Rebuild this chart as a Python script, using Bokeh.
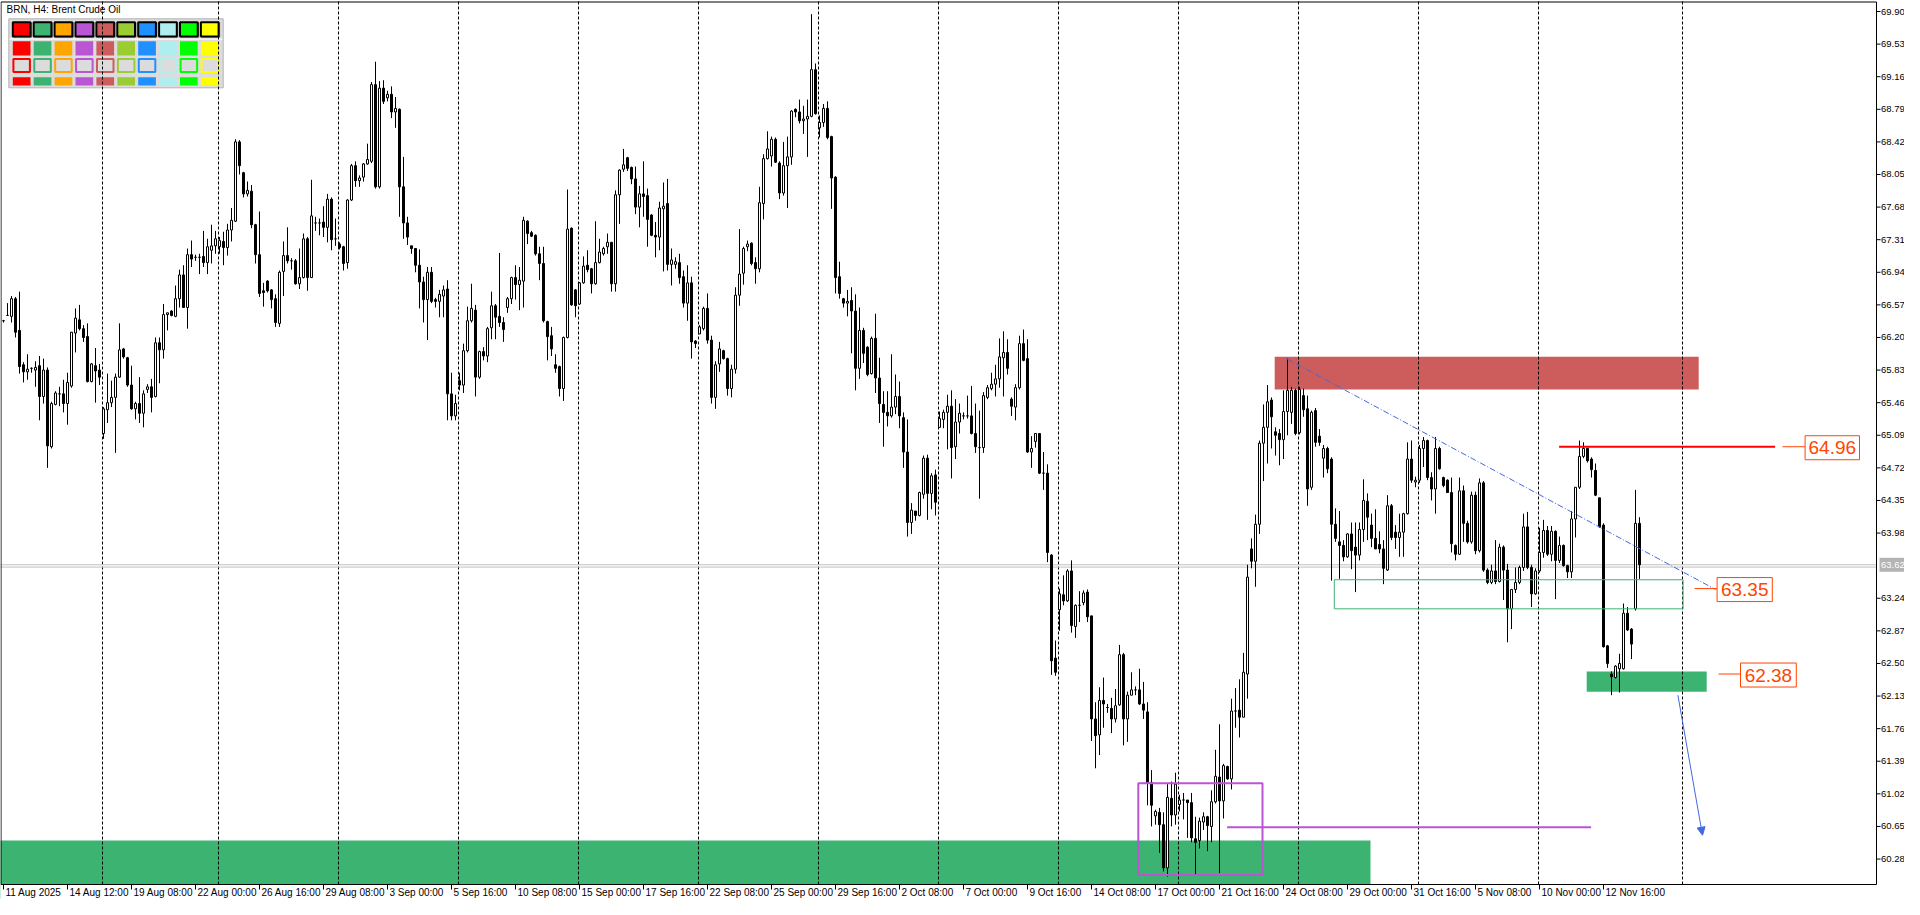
from bokeh.plotting import figure
from bokeh.models import Range1d, Arrow, NormalHead
from bokeh.core.properties import value
from bokeh.embed import file_html
from bokeh.resources import INLINE

# ---------------- candle data (BRN, H4) ----------------
opens = [
    66.39, 66.45, 66.44, 66.64, 66.28, 65.89, 65.81, 65.85, 65.83, 65.88,
    65.53, 65.83, 64.96, 65.44, 65.56, 65.56, 65.45, 65.65, 66.25, 66.40,
    66.30, 66.21, 65.70, 65.88, 65.83, 65.11, 65.38, 65.46, 65.52, 65.75,
    66.07, 65.97, 65.66, 65.39, 65.45, 65.34, 65.61, 65.64, 65.53, 66.14,
    66.06, 66.46, 66.50, 66.44, 66.64, 66.91, 66.54, 67.14, 67.11, 67.11,
    67.12, 67.05, 67.19, 67.24, 67.23, 67.29, 67.22, 67.42, 67.52, 68.42,
    68.07, 67.83, 67.86, 67.48, 67.14, 66.73, 66.84, 66.74, 66.64, 66.36,
    66.95, 67.13, 67.07, 67.07, 66.81, 66.88, 67.32, 66.88, 67.50, 67.50,
    67.51, 67.45, 67.77, 67.32, 67.26, 67.23, 67.05, 67.76, 68.15, 67.98,
    68.02, 68.17, 68.20, 69.07, 67.91, 69.03, 68.92, 68.96, 68.76, 68.79,
    67.91, 67.50, 67.24, 67.21, 67.02, 66.83, 66.63, 66.94, 66.63, 66.61,
    66.67, 66.75, 65.56, 65.31, 65.71, 65.66, 66.05, 66.39, 66.51, 65.75,
    66.04, 65.99, 66.31, 66.56, 66.44, 66.37, 66.54, 66.64, 66.88, 66.80,
    66.84, 67.52, 67.39, 67.36, 67.15, 67.04, 66.38, 66.22, 65.89, 65.87,
    65.62, 66.20, 67.44, 66.74, 66.58, 66.82, 67.02, 66.98, 66.81, 67.05,
    67.15, 67.23, 67.28, 66.81, 67.82, 68.11, 68.24, 68.13, 68.00, 67.68,
    67.83, 67.81, 67.59, 67.36, 67.34, 67.66, 67.72, 67.03, 67.03, 67.05,
    66.89, 66.59, 66.82, 66.16, 66.24, 66.30, 66.53, 66.17, 65.52, 65.90,
    66.05, 65.96, 65.62, 65.84, 66.68, 66.93, 67.23, 67.27, 67.05, 66.98,
    67.72, 68.23, 68.26, 68.45, 68.18, 67.84, 68.15, 68.25, 68.79, 68.76,
    68.66, 68.68, 68.71, 69.24, 68.58, 68.64, 68.80, 68.48, 68.02, 66.89,
    66.64, 66.59, 66.62, 66.50, 65.85, 66.28, 66.09, 65.79, 66.19, 65.74,
    65.44, 65.35, 65.31, 65.41, 65.53, 65.29, 64.90, 64.10, 64.23, 64.18,
    64.42, 64.83, 64.43, 64.64, 65.18, 65.27, 65.35, 65.42, 64.96, 65.24,
    65.31, 65.31, 65.31, 65.11, 64.95, 64.95, 65.52, 65.62, 65.67, 65.73,
    65.97, 66.03, 65.50, 65.41, 65.63, 66.13, 65.96, 64.90, 65.02, 65.11,
    64.66, 64.66, 63.73, 62.56, 63.11, 63.28, 63.21, 63.55, 62.92, 63.16,
    63.19, 63.31, 63.04, 61.87, 61.69, 62.08, 62.00, 61.99, 61.87, 62.03,
    62.60, 61.87, 62.14, 62.20, 62.20, 62.04, 61.95, 61.15, 60.77, 60.81,
    60.67, 60.18, 60.97, 60.78, 60.90, 60.95, 60.95, 60.92, 60.51, 60.49,
    60.70, 60.76, 60.65, 60.93, 61.21, 60.94, 61.33, 61.19, 61.96, 61.97,
    61.89, 62.38, 63.80, 63.66, 64.08, 65.00, 65.18, 65.49, 65.13, 65.11,
    65.04, 65.36, 65.35, 65.60, 65.12, 65.54, 65.39, 64.50, 65.37, 65.08,
    64.83, 64.94, 64.82, 64.08, 63.88, 63.84, 63.71, 63.97, 63.82, 63.73,
    64.02, 64.34, 64.07, 63.92, 63.85, 63.80, 63.56, 64.29, 63.99, 63.93,
    63.99, 64.20, 64.82, 64.56, 64.58, 64.94, 65.03, 64.61, 64.48, 64.94,
    64.61, 64.58, 64.44, 63.84, 63.74, 64.46, 64.09, 63.88, 64.41, 63.78,
    64.55, 63.56, 63.42, 63.55, 63.43, 63.82, 63.56, 63.12, 63.34, 63.42,
    63.59, 64.05, 63.59, 63.29, 63.55, 63.76, 64.01, 63.74, 64.00, 63.67,
    63.84, 63.61, 63.54, 64.14, 64.50, 64.85, 64.94, 64.82, 64.69, 64.38,
    64.07, 62.70, 62.38, 62.34, 62.44, 62.44, 63.07, 62.89, 63.12, 64.09,
]
highs = [
    66.40, 66.59, 66.67, 66.66, 66.72, 65.92, 66.01, 65.86, 65.93, 65.99,
    65.96, 65.86, 65.47, 65.59, 65.64, 65.72, 65.80, 66.26, 66.53, 66.57,
    66.34, 66.36, 65.91, 66.08, 65.90, 65.41, 65.79, 65.71, 65.79, 66.36,
    66.08, 65.98, 65.88, 65.47, 65.75, 65.60, 65.67, 65.73, 66.20, 66.20,
    66.58, 66.48, 66.51, 66.79, 66.97, 67.02, 67.21, 67.30, 67.14, 67.15,
    67.41, 67.32, 67.48, 67.41, 67.34, 67.40, 67.49, 67.67, 68.45, 68.44,
    68.08, 67.97, 67.93, 67.49, 67.63, 66.82, 66.85, 66.75, 66.69, 66.96,
    67.29, 67.45, 67.10, 67.09, 67.21, 67.38, 67.34, 67.99, 67.57, 67.55,
    67.69, 67.83, 67.79, 67.55, 67.28, 67.24, 67.77, 68.17, 68.20, 68.04,
    68.18, 68.40, 69.10, 69.33, 69.11, 69.12, 69.00, 69.05, 68.93, 68.80,
    68.25, 67.57, 67.24, 67.21, 67.20, 66.89, 67.00, 67.00, 66.65, 66.74,
    66.79, 66.85, 65.80, 65.55, 65.80, 66.13, 66.55, 66.81, 66.57, 66.05,
    66.09, 66.32, 66.72, 66.58, 67.16, 66.43, 66.66, 66.89, 67.02, 67.00,
    67.57, 67.53, 67.41, 67.37, 67.23, 67.23, 66.39, 66.32, 66.01, 65.88,
    66.21, 67.88, 67.45, 66.75, 66.83, 67.12, 67.19, 66.99, 67.52, 67.32,
    67.23, 67.38, 67.28, 67.87, 68.11, 68.34, 68.25, 68.14, 68.14, 67.92,
    68.20, 67.89, 67.60, 67.51, 67.74, 67.96, 68.00, 67.21, 67.11, 67.15,
    66.96, 67.02, 66.89, 66.17, 66.34, 66.55, 66.70, 66.22, 65.93, 66.15,
    66.06, 65.97, 65.89, 66.77, 67.43, 67.23, 67.30, 67.28, 67.11, 67.91,
    68.28, 68.54, 68.48, 68.47, 68.20, 68.42, 68.48, 68.78, 68.80, 68.90,
    68.83, 68.90, 69.87, 69.31, 68.72, 68.85, 68.88, 68.49, 68.03, 67.06,
    66.65, 66.74, 66.77, 66.69, 66.54, 66.31, 66.10, 66.21, 66.47, 65.97,
    65.59, 65.59, 66.01, 65.78, 65.70, 65.35, 65.27, 64.32, 64.23, 64.45,
    64.86, 64.87, 64.66, 64.70, 65.36, 65.38, 65.55, 65.60, 65.50, 65.45,
    65.35, 65.54, 65.65, 65.45, 65.37, 65.58, 65.66, 65.80, 65.89, 66.19,
    66.27, 66.18, 65.52, 65.67, 66.22, 66.29, 66.18, 65.08, 65.11, 65.11,
    64.90, 64.76, 63.74, 62.76, 63.35, 63.50, 63.57, 63.67, 63.17, 63.32,
    63.33, 63.34, 63.04, 62.06, 62.23, 62.34, 62.04, 62.11, 62.21, 62.71,
    62.62, 62.18, 62.40, 62.24, 62.44, 62.29, 62.06, 61.29, 60.84, 60.86,
    60.81, 61.13, 61.16, 61.26, 61.01, 61.03, 60.95, 61.03, 60.76, 60.75,
    60.81, 60.77, 61.06, 61.52, 61.81, 61.36, 61.34, 62.10, 62.22, 62.32,
    62.62, 63.62, 63.92, 64.19, 65.03, 65.44, 65.66, 65.52, 65.18, 65.16,
    65.60, 65.96, 65.64, 65.62, 65.64, 65.62, 65.54, 65.37, 65.40, 65.16,
    64.98, 64.96, 64.84, 64.26, 64.23, 63.90, 63.98, 64.10, 64.10, 64.10,
    64.59, 64.43, 64.20, 64.25, 64.00, 63.90, 64.41, 64.31, 64.07, 64.20,
    64.21, 65.01, 65.03, 64.62, 64.98, 65.07, 65.04, 64.67, 65.07, 64.96,
    64.62, 64.59, 64.61, 63.85, 64.61, 64.52, 64.12, 64.45, 64.45, 64.60,
    64.57, 63.58, 63.62, 63.90, 63.86, 63.84, 63.63, 63.34, 63.59, 63.61,
    64.20, 64.22, 63.62, 63.58, 64.04, 64.13, 64.06, 64.06, 64.01, 63.94,
    63.85, 63.62, 64.23, 64.50, 65.03, 65.01, 64.95, 64.84, 64.77, 64.38,
    64.09, 62.71, 62.41, 62.48, 62.61, 63.18, 63.14, 62.90, 64.47, 64.16,
]
lows = [
    66.37, 66.45, 66.37, 66.20, 65.79, 65.69, 65.72, 65.80, 65.64, 65.26,
    65.45, 64.72, 64.94, 65.43, 65.42, 65.35, 65.21, 65.63, 66.03, 66.28,
    66.15, 65.69, 65.69, 65.46, 65.66, 65.05, 65.23, 65.41, 64.89, 65.74,
    65.96, 65.64, 65.38, 65.27, 65.23, 65.18, 65.57, 65.35, 65.52, 65.68,
    65.96, 66.28, 66.44, 66.43, 66.54, 66.54, 66.30, 67.00, 67.07, 66.92,
    67.00, 66.92, 67.04, 67.15, 67.15, 67.02, 67.13, 67.29, 67.51, 68.05,
    67.79, 67.80, 67.44, 67.04, 66.66, 66.55, 66.71, 66.53, 66.32, 66.32,
    66.67, 67.04, 66.97, 66.80, 66.75, 66.87, 66.73, 66.88, 67.41, 67.36,
    67.34, 67.28, 67.19, 67.24, 67.20, 66.96, 66.98, 67.75, 67.91, 67.91,
    67.97, 68.16, 68.18, 67.89, 67.89, 68.85, 68.88, 68.69, 68.58, 67.57,
    67.32, 67.25, 67.15, 66.94, 66.53, 66.37, 66.17, 66.59, 66.54, 66.43,
    66.43, 65.26, 65.26, 65.26, 65.60, 65.57, 66.03, 66.37, 65.53, 65.73,
    65.94, 65.92, 66.18, 66.18, 66.32, 66.15, 66.48, 66.58, 66.63, 66.51,
    66.54, 67.26, 67.34, 67.13, 66.85, 66.37, 65.94, 65.99, 65.80, 65.53,
    65.48, 66.19, 66.56, 66.43, 66.57, 66.81, 66.94, 66.70, 66.80, 67.04,
    67.13, 67.15, 66.72, 66.72, 67.49, 68.08, 68.09, 67.94, 67.60, 67.45,
    67.57, 67.23, 67.35, 67.11, 67.19, 66.95, 66.96, 66.79, 66.98, 66.81,
    66.54, 66.39, 65.96, 66.08, 66.24, 66.28, 66.13, 65.45, 65.39, 65.81,
    65.95, 65.54, 65.52, 65.79, 66.56, 66.80, 67.18, 67.02, 66.81, 66.94,
    67.54, 68.22, 68.14, 68.18, 67.77, 67.81, 67.67, 68.16, 68.70, 68.63,
    68.51, 68.25, 68.70, 68.73, 68.47, 68.59, 68.45, 67.66, 66.70, 66.64,
    66.54, 66.44, 66.02, 65.60, 65.73, 65.91, 65.76, 65.78, 65.57, 65.23,
    64.96, 65.19, 65.29, 65.33, 65.17, 64.72, 63.94, 63.97, 64.12, 64.17,
    64.37, 64.13, 64.25, 64.18, 65.18, 65.17, 64.93, 64.60, 64.82, 65.11,
    65.27, 65.28, 65.10, 64.89, 64.37, 64.89, 65.50, 65.60, 65.53, 65.63,
    65.53, 65.78, 65.31, 65.26, 65.61, 65.93, 64.89, 64.72, 64.95, 64.65,
    64.47, 63.65, 62.37, 62.36, 62.87, 63.16, 63.20, 62.85, 62.79, 62.97,
    63.16, 62.97, 61.62, 61.31, 61.46, 61.77, 61.94, 61.71, 61.83, 62.02,
    61.57, 61.61, 62.14, 62.14, 62.03, 61.87, 60.89, 60.65, 60.67, 60.35,
    60.14, 60.08, 60.65, 60.67, 60.82, 60.73, 60.52, 60.47, 60.10, 60.40,
    60.61, 60.37, 60.47, 60.91, 60.12, 60.74, 61.18, 61.07, 61.77, 61.66,
    61.89, 62.10, 63.58, 63.37, 63.97, 64.57, 64.77, 64.94, 64.86, 64.75,
    64.82, 65.09, 65.22, 65.09, 65.10, 65.30, 64.29, 64.47, 64.96, 64.97,
    64.61, 64.66, 63.44, 63.88, 63.46, 63.66, 63.70, 63.57, 63.31, 63.67,
    63.88, 63.90, 63.82, 63.80, 63.75, 63.40, 63.55, 63.90, 63.80, 63.71,
    63.71, 64.19, 64.55, 64.50, 64.55, 64.73, 64.58, 64.35, 64.20, 64.70,
    64.50, 64.44, 63.76, 63.67, 63.73, 63.88, 63.86, 63.86, 63.74, 63.76,
    63.54, 63.40, 63.40, 63.40, 63.42, 63.22, 62.74, 62.89, 63.30, 63.40,
    63.55, 63.57, 63.14, 63.28, 63.53, 63.70, 63.72, 63.66, 63.23, 63.64,
    63.60, 63.47, 63.47, 63.93, 64.48, 64.83, 64.78, 64.61, 64.40, 64.04,
    62.68, 62.45, 62.14, 62.33, 62.17, 62.43, 62.87, 62.55, 63.10, 63.46,
]
closes = [
    66.39, 66.45, 66.64, 66.26, 65.87, 65.81, 65.84, 65.85, 65.86, 65.53,
    65.83, 64.97, 65.45, 65.57, 65.56, 65.45, 65.69, 66.26, 66.42, 66.30,
    66.20, 65.70, 65.90, 65.82, 65.75, 65.39, 65.46, 65.52, 65.75, 66.06,
    65.98, 65.66, 65.39, 65.45, 65.34, 65.56, 65.64, 65.52, 66.14, 66.06,
    66.46, 66.48, 66.45, 66.64, 66.91, 66.54, 67.14, 67.09, 67.11, 67.11,
    67.05, 67.23, 67.24, 67.32, 67.30, 67.22, 67.42, 67.53, 68.42, 68.15,
    67.83, 67.87, 67.48, 67.14, 66.70, 66.71, 66.73, 66.63, 66.37, 66.94,
    67.13, 67.07, 67.07, 66.81, 66.88, 67.32, 66.88, 67.58, 67.50, 67.50,
    67.45, 67.77, 67.31, 67.32, 67.22, 67.04, 67.76, 68.15, 67.98, 68.01,
    68.17, 68.22, 69.07, 67.91, 69.03, 68.88, 68.96, 68.76, 68.80, 67.91,
    67.50, 67.34, 67.21, 67.02, 66.83, 66.63, 66.94, 66.61, 66.61, 66.69,
    66.74, 65.56, 65.31, 65.45, 65.66, 66.05, 66.39, 66.53, 65.75, 66.04,
    65.99, 66.30, 66.56, 66.43, 66.37, 66.29, 66.64, 66.88, 66.80, 66.85,
    67.53, 67.38, 67.35, 67.15, 67.04, 66.39, 66.21, 66.07, 65.85, 65.62,
    66.20, 67.43, 66.57, 66.56, 66.82, 67.01, 66.97, 66.81, 67.05, 67.17,
    67.21, 67.28, 66.81, 67.82, 68.10, 68.16, 68.12, 68.00, 67.68, 67.83,
    67.80, 67.54, 67.36, 67.34, 67.67, 67.69, 67.03, 67.08, 67.06, 66.88,
    66.59, 66.82, 66.15, 66.13, 66.32, 66.53, 66.17, 65.52, 65.89, 66.07,
    65.96, 65.62, 65.84, 66.68, 66.92, 67.21, 67.26, 67.04, 66.98, 67.73,
    68.23, 68.34, 68.45, 68.19, 67.84, 68.15, 68.25, 68.77, 68.76, 68.66,
    68.68, 68.71, 69.24, 68.74, 68.64, 68.80, 68.47, 68.01, 66.88, 66.70,
    66.59, 66.61, 66.50, 65.85, 66.28, 66.02, 65.78, 66.19, 65.74, 65.45,
    65.35, 65.31, 65.41, 65.53, 65.31, 64.90, 64.10, 64.24, 64.18, 64.44,
    64.83, 64.43, 64.63, 64.33, 65.28, 65.35, 65.42, 64.95, 65.24, 65.34,
    65.31, 65.31, 65.11, 64.96, 64.95, 65.54, 65.63, 65.67, 65.73, 65.98,
    66.03, 65.85, 65.42, 65.63, 66.13, 65.94, 64.90, 64.94, 65.11, 64.66,
    64.66, 63.76, 62.53, 62.40, 63.29, 63.21, 63.55, 62.93, 63.16, 63.16,
    63.30, 63.03, 61.87, 61.68, 62.08, 62.04, 62.00, 61.87, 62.02, 62.60,
    61.87, 62.14, 62.20, 62.20, 62.04, 61.97, 61.15, 60.89, 60.82, 60.67,
    60.18, 60.98, 60.78, 61.13, 60.95, 60.95, 60.92, 60.52, 60.47, 60.71,
    60.76, 60.66, 60.93, 61.22, 60.94, 61.34, 61.19, 61.96, 61.96, 61.89,
    62.40, 63.48, 63.66, 64.08, 65.00, 65.18, 65.47, 65.30, 65.09, 65.04,
    65.36, 65.60, 65.60, 65.11, 65.61, 65.38, 64.48, 65.35, 65.01, 65.01,
    64.94, 64.71, 64.08, 63.92, 63.84, 63.71, 63.97, 63.78, 63.73, 64.02,
    64.35, 64.16, 63.92, 63.80, 63.80, 63.58, 64.29, 63.93, 63.93, 63.99,
    64.20, 64.82, 64.58, 64.58, 64.94, 65.03, 64.61, 64.48, 64.94, 64.71,
    64.52, 64.44, 63.86, 63.74, 64.46, 64.09, 63.88, 64.41, 63.78, 64.55,
    63.56, 63.42, 63.55, 63.43, 63.82, 63.56, 63.12, 63.34, 63.42, 63.59,
    64.05, 63.59, 63.29, 63.55, 63.76, 64.01, 63.74, 64.00, 63.67, 63.84,
    63.61, 63.54, 64.14, 64.50, 64.85, 64.94, 64.80, 64.70, 64.41, 64.05,
    62.69, 62.50, 62.35, 62.47, 62.50, 63.07, 62.88, 62.72, 64.09, 63.62,
]

# time axis labels (bar index -> text)
time_tick_idx = [0, 16, 32, 48, 64, 80, 96, 112, 128, 144, 160, 176, 192,
                 208, 224, 240, 256, 272, 288, 304, 320, 336, 352, 368, 384, 400]
time_tick_text = ["11 Aug 2025", "14 Aug 12:00", "19 Aug 08:00", "22 Aug 00:00",
                  "26 Aug 16:00", "29 Aug 08:00", "3 Sep 00:00", "5 Sep 16:00",
                  "10 Sep 08:00", "15 Sep 00:00", "17 Sep 16:00", "22 Sep 08:00",
                  "25 Sep 00:00", "29 Sep 16:00", "2 Oct 08:00", "7 Oct 00:00",
                  "9 Oct 16:00", "14 Oct 08:00", "17 Oct 00:00", "21 Oct 16:00",
                  "24 Oct 08:00", "29 Oct 00:00", "31 Oct 16:00", "5 Nov 08:00",
                  "10 Nov 00:00", "12 Nov 16:00"]
price_ticks = [69.90, 69.53, 69.16, 68.79, 68.42, 68.05, 67.68, 67.31, 66.94,
               66.57, 66.20, 65.83, 65.46, 65.09, 64.72, 64.35, 63.98, 63.24,
               62.87, 62.50, 62.13, 61.76, 61.39, 61.02, 60.65, 60.28]
bid_price = 63.62
week_sep = [24.75, 53.75, 83.75, 113.75, 143.75, 173.75, 203.75, 233.75,
            263.75, 293.75, 323.75, 353.75, 383.75, 419.75]

# drawn objects on the chart (bar index / price)
zone_x0 = [-5.0, 317.8, 395.8]
zone_x1 = [341.75, 423.8, 425.8]
zone_lo = [59.0, 65.61, 62.18]
zone_hi = [60.49, 65.98, 62.41]
zone_col = ["#3CB371", "#CD5C5C", "#3CB371"]

frame_x0 = [332.7, 283.7]
frame_x1 = [419.9, 314.75]
frame_lo = [63.12, 60.10]
frame_hi = [63.45, 61.14]
frame_col = ["#3CB371", "#BA55D3"]
frame_w = [1, 2]

res_level = 64.96
res_x = [388.9, 442.9]
mag_level = 60.64
mag_x = [305.9, 396.9]
trend_x = [320.75, 428.0]
trend_y = [65.96, 63.34]
arrow_from = (418.6, 62.14)
arrow_to = (424.75, 60.55)

tag_values = [64.96, 63.35, 62.38]
tag_text = ["64.96", "63.35", "62.38"]
tag_box_x0 = [450.4, 428.4, 434.25]
tag_box_x1 = [464.0, 442.2, 448.2]
tag_conn_x0 = [444.75, 422.75, 428.75]
tag_col = "#FF4500"

palette = ["#FF0000", "#3CB371", "#FFA500", "#BA55D3", "#CD5C5C",
           "#9ACD32", "#1E90FF", "#AFEEEE", "#00FF00", "#FFFF00"]

n = len(closes)
assert len(opens) == n and len(highs) == n and len(lows) == n, (len(opens), len(highs), len(lows), n)
idx = list(range(n))

# ---------------- geometry ----------------
W, H = 1904, 899
PPB = 4.0                          # px per bar
X0 = -0.75                         # bar position at the left edge of the canvas
XF = X0 + 1876 / PPB               # right edge of the chart frame (price scale beyond)
XR = X0 + W / PPB
PPU = 88.1                         # px per price unit
YT = 70.025                        # price at the top edge of the canvas
YR = YT - H / PPU                  # price at the bottom edge of the canvas
YB = YT - 884 / PPU                # bottom of the chart frame (time scale below)


def dx(px):
    return px / PPB


def dy(px):
    return px / PPU


p = figure(width=W, height=H, output_backend="svg", toolbar_location=None,
           x_range=Range1d(X0, XR), y_range=Range1d(YR, YT),
           x_axis_location=None, y_axis_location=None,
           min_border_left=0, min_border_right=0, min_border_top=0, min_border_bottom=0)
p.xgrid.visible = False
p.ygrid.visible = False
p.background_fill_color = "white"
p.border_fill_color = "white"
p.outline_line_color = None


def rx(px):  # canvas-pixel helpers for the decorative panel
    return X0 + px / PPB


def ry(py):
    return YT - py / PPU


FONT = "Liberation Sans"

# colour panel (top-left)
p.quad(left=[rx(8.3)], right=[rx(222.7)], top=[ry(18.3)], bottom=[ry(87.3)],
       fill_color="#dcdcdc", line_color="#b4b4b4", line_width=1)
p.segment(x0=[rx(9)], y0=[ry(38.6)], x1=[rx(222)], y1=[ry(38.6)], line_color="white", line_width=1)
cl = [rx(12.3 + 20.9 * c) for c in range(10)]
cr = [rx(30.0 + 20.9 * c) for c in range(10)]
p.quad(left=[rx(13.0 + 20.9 * c) for c in range(10)], right=[rx(31.5 + 20.9 * c) for c in range(10)],
       top=[ry(22.0)] * 10, bottom=[ry(37.0)] * 10, fill_color="#7a7a7a", line_color=None)
p.quad(left=cl, right=cr, top=[ry(21.7)] * 10, bottom=[ry(36.0)] * 10,
       fill_color=palette, line_color="black", line_width=2)
p.quad(left=cl, right=cr, top=[ry(40.7)] * 10, bottom=[ry(55.0)] * 10,
       fill_color=palette, line_color=None)
p.quad(left=[v + 0.15 for v in cl], right=[v - 0.15 for v in cr], top=[ry(58.5)] * 10, bottom=[ry(71.5)] * 10,
       fill_color="#dcdcdc", line_color=palette, line_width=2)
p.quad(left=cl, right=cr, top=[ry(76.7)] * 10, bottom=[ry(85.0)] * 10,
       fill_color=palette, line_color=None)

# zones (filled rectangles)
p.quad(left=zone_x0, right=zone_x1, bottom=zone_lo, top=zone_hi,
       fill_color=zone_col, line_color=None)

# weekly separators
p.segment(x0=week_sep, y0=[YB] * len(week_sep), x1=week_sep, y1=[YT + 1] * len(week_sep),
          line_color="black", line_width=1, line_dash="3 2")

# bid line (double, light gray)
p.segment(x0=[X0 - 5, X0 - 5], y0=[bid_price, bid_price - dy(2.3)],
          x1=[XF, XF], y1=[bid_price, bid_price - dy(2.3)],
          line_color="#c0c0c0", line_width=1)

# candles
wick_lo = [min(l, o, c) for l, o, c in zip(lows, opens, closes)]
wick_hi = [max(h, o, c) for h, o, c in zip(highs, opens, closes)]
p.segment(x0=idx, y0=wick_lo, x1=idx, y1=wick_hi, line_color="black", line_width=1)
bull = [i for i in idx if closes[i] >= opens[i]]
bear = [i for i in idx if closes[i] < opens[i]]
p.vbar(x=bull, width=0.5, top=[closes[i] for i in bull], bottom=[opens[i] for i in bull],
       fill_color="white", line_color="black", line_width=1)
p.vbar(x=bear, width=0.5, top=[opens[i] for i in bear], bottom=[closes[i] for i in bear],
       fill_color="black", line_color="black", line_width=1)

# outlined rectangles
p.quad(left=frame_x0, right=frame_x1, bottom=frame_lo, top=frame_hi,
       fill_color=None, line_color=frame_col, line_width=frame_w)

# horizontal levels
p.line(x=res_x, y=[res_level, res_level], line_color="#FF0000", line_width=2)
p.line(x=mag_x, y=[mag_level, mag_level], line_color="#BA55D3", line_width=2)

# trend line
p.line(x=trend_x, y=trend_y, line_color="#4169E1", line_width=1, line_dash="6 2 1 2")

# arrow
p.add_layout(Arrow(end=NormalHead(size=8, fill_color="#4169E1", line_color="#4169E1"),
                   x_start=arrow_from[0], y_start=arrow_from[1],
                   x_end=arrow_to[0], y_end=arrow_to[1],
                   line_color="#4169E1", line_width=1))

# price tags
p.segment(x0=tag_conn_x0, y0=tag_values, x1=tag_box_x0, y1=tag_values,
          line_color=tag_col, line_width=1)
p.quad(left=tag_box_x0, right=tag_box_x1,
       bottom=[v - dy(13) for v in tag_values], top=[v + dy(11) for v in tag_values],
       fill_color="white", line_color=tag_col, line_width=1)
p.text(x=[(a + b) / 2 for a, b in zip(tag_box_x0, tag_box_x1)], y=[v - dy(1) for v in tag_values],
       text=tag_text, text_align="center", text_baseline="middle",
       text_font=value(FONT), text_font_size="19px", text_color=tag_col)

# title
p.text(x=[rx(6)], y=[ry(3.5)], text=["BRN, H4:  Brent Crude Oil"], text_align="left",
       text_baseline="top", text_font=value(FONT), text_font_size="10px", text_color="black")

# ---------------- scales (price on the right, time at the bottom) ----------------
p.quad(left=[XF], right=[XR + 5], bottom=[YR - 5], top=[YT + 5], fill_color="white", line_color=None)
p.quad(left=[X0 - 5], right=[XF], bottom=[YR - 5], top=[YB], fill_color="white", line_color=None)

# frame border
p.quad(left=[rx(0.5)], right=[XF], bottom=[YB], top=[ry(1.5)],
       fill_color=None, line_color="black", line_width=1)

# price scale
p.segment(x0=[XF] * len(price_ticks), y0=price_ticks, x1=[XF + dx(4)] * len(price_ticks), y1=price_ticks,
          line_color="black", line_width=1)
p.text(x=[XF + dx(4.5)] * len(price_ticks), y=price_ticks, text=["%.2f" % v for v in price_ticks],
       text_align="left", text_baseline="middle", text_font=value(FONT), text_font_size="9.5px",
       text_color="black")
p.quad(left=[XF + dx(3)], right=[XR + 1], bottom=[bid_price - dy(7)], top=[bid_price + dy(7)],
       fill_color="#b4b4b4", line_color=None)
p.text(x=[XF + dx(4.5)], y=[bid_price], text=["%.2f" % bid_price], text_align="left",
       text_baseline="middle", text_font=value(FONT), text_font_size="9.5px", text_color="white")

# time scale
p.segment(x0=time_tick_idx, y0=[YB] * len(time_tick_idx), x1=time_tick_idx,
          y1=[YB - dy(5)] * len(time_tick_idx), line_color="black", line_width=1)
p.text(x=[t + dx(2) for t in time_tick_idx], y=[YB - dy(2.5)] * len(time_tick_idx), text=time_tick_text,
       text_align="left", text_baseline="top", text_font=value(FONT), text_font_size="10px",
       text_color="black")

open("out.html", "w").write(file_html(p, INLINE))
